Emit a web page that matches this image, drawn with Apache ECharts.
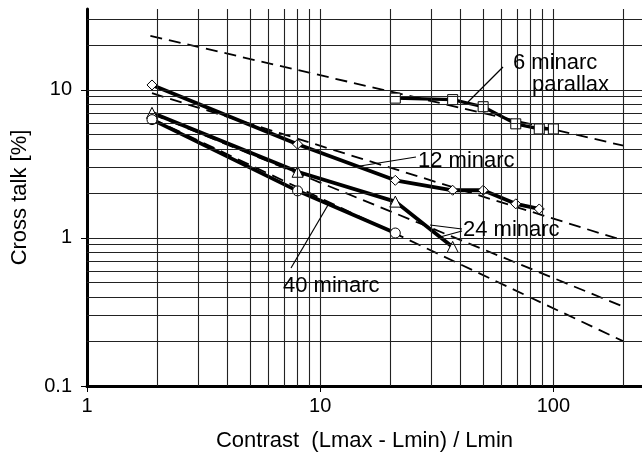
<!DOCTYPE html>
<html>
<head>
<meta charset="utf-8">
<script src="https://cdn.jsdelivr.net/npm/echarts@6/dist/echarts.min.js"></script>
<style>
html,body{margin:0;padding:0;background:#fff;}
#c{width:642px;height:454px;}
</style>
</head>
<body>
<div id="c"></div>
<script>
// ---- data ----
const xTickLabels = [1, 10, 100];
const yTickLabels = [0.1, 1, 10];
const xGridValues = [2,3,4,5,6,7,8,9,10,20,30,40,50,60,70,80,90,100,200];
const yGridValues = [0.2,0.3,0.4,0.5,0.6,0.7,0.8,0.9,1,2,3,4,5,6,7,8,9,10,20,30];

const x6 = [21, 37, 50, 69, 87, 100];
const y6 = [8.8, 8.6, 7.7, 5.9, 5.45, 5.45];
const x12 = [1.9, 8, 21, 37, 50, 69, 87];
const y12 = [10.8, 4.3, 2.45, 2.1, 2.1, 1.7, 1.57];
const x24 = [1.9, 8, 21, 37];
const y24 = [7.0, 2.8, 1.76, 0.87];
const x40 = [1.9, 8, 21];
const y40 = [6.3, 2.08, 1.08];

// dashed fit lines
const fit6x = [1.87, 200],  fit6y = [23.2, 4.2];
const fit12x = [1.9, 200],  fit12y = [9.5, 0.96];
const fit24x = [1.9, 200],  fit24y = [6.9, 0.343];
const fit40x = [1.9, 200],  fit40y = [6.4, 0.2];

const pairs = (xs, ys) => xs.map((x, i) => [x, ys[i]]);
const FONT = '"Liberation Sans", Arial, sans-serif';

const chart = echarts.init(document.getElementById('c'), null, {renderer: 'canvas'});

function solid(name, xs, ys, symbol, size, width) {
  return {
    name, type: 'line', data: pairs(xs, ys), z: 4,
    symbol, symbolSize: size, showAllSymbol: true,
    lineStyle: {color: '#000', width: width},
    itemStyle: {color: '#fff', borderColor: '#000', borderWidth: 1},
    emphasis: {disabled: true}
  };
}
function dashed(xs, ys) {
  return {
    type: 'line', data: pairs(xs, ys), z: 3, symbol: 'none',
    lineStyle: {color: '#000', width: 1.8, type: [12, 7]},
    emphasis: {disabled: true}
  };
}

chart.setOption({
  animation: false,
  backgroundColor: '#fff',
  grid: {left: 87, right: 0, top: 9, bottom: 68, containLabel: false, outerBoundsMode: 'none'},
  xAxis: {
    type: 'log', logBase: 10, min: 1, max: 240,
    name: 'Contrast  (Lmax - Lmin) / Lmin',
    nameLocation: 'middle', nameGap: 44,
    nameTextStyle: {fontFamily: FONT, fontSize: 22, color: '#000'},
    axisLine: {show: true, lineStyle: {color: '#000', width: 3}},
    axisTick: {show: true, customValues: xTickLabels, length: 6, lineStyle: {color: '#000', width: 1}},
    axisLabel: {customValues: xTickLabels, fontFamily: FONT, fontSize: 20, color: '#000', margin: 10},
    splitLine: {show: false}, minorSplitLine: {show: false}
  },
  yAxis: {
    type: 'log', logBase: 10, min: 0.1, max: 35.2,
    name: 'Cross talk [%]',
    nameLocation: 'middle', nameGap: 56, nameRotate: 90,
    nameTextStyle: {fontFamily: FONT, fontSize: 22, color: '#000'},
    axisLine: {show: true, lineStyle: {color: '#000', width: 3}},
    axisTick: {show: true, customValues: yTickLabels, length: 6, lineStyle: {color: '#000', width: 1}},
    axisLabel: {customValues: yTickLabels, fontFamily: FONT, fontSize: 20, color: '#000', margin: 15},
    splitLine: {show: false}, minorSplitLine: {show: false}
  },
  series: [
    {
      type: 'line', data: [[1, 0.1]], symbol: 'none', z: 1,
      lineStyle: {opacity: 0}, silent: true,
      markLine: {
        silent: true, symbol: ['none', 'none'], label: {show: false},
        lineStyle: {color: '#222', width: 1.1, type: 'solid'},
        emphasis: {disabled: true},
        data: xGridValues.map(v => ({xAxis: v})).concat(yGridValues.map(v => ({yAxis: v})))
      }
    },
    dashed(fit6x, fit6y),
    dashed(fit12x, fit12y),
    dashed(fit24x, fit24y),
    dashed(fit40x, fit40y),
    solid('6 minarc parallax', x6, y6, 'rect', 10, 3.2),
    solid('12 minarc', x12, y12, 'diamond', 10, 3.8),
    solid('24 minarc', x24, y24, 'triangle', 11, 3.8),
    solid('40 minarc', x40, y40, 'circle', 10, 3.8)
  ],
  graphic: [
    {type: 'line', z: 10, shape: {x1: 503, y1: 67, x2: 468, y2: 102}, style: {stroke: '#000', lineWidth: 1.2}},
    {type: 'line', z: 10, shape: {x1: 416, y1: 157, x2: 360, y2: 166}, style: {stroke: '#000', lineWidth: 1.2}},
    {type: 'line', z: 10, shape: {x1: 462, y1: 229, x2: 430, y2: 225}, style: {stroke: '#000', lineWidth: 1.2}},
    {type: 'line', z: 10, shape: {x1: 462, y1: 231, x2: 440, y2: 237}, style: {stroke: '#000', lineWidth: 1.2}},
    {type: 'line', z: 10, shape: {x1: 291, y1: 268, x2: 328, y2: 205}, style: {stroke: '#000', lineWidth: 1.2}},
    {type: 'text', z: 10, style: {text: '6 minarc', x: 513, y: 63, font: '22px ' + FONT, fill: '#000', align: 'left', verticalAlign: 'middle'}},
    {type: 'text', z: 10, style: {text: 'parallax', x: 532, y: 85, font: '22px ' + FONT, fill: '#000', align: 'left', verticalAlign: 'middle'}},
    {type: 'text', z: 10, style: {text: '12 minarc', x: 418, y: 161, font: '22px ' + FONT, fill: '#000', align: 'left', verticalAlign: 'middle'}},
    {type: 'text', z: 10, style: {text: '24 minarc', x: 463, y: 230, font: '22px ' + FONT, fill: '#000', align: 'left', verticalAlign: 'middle'}},
    {type: 'text', z: 10, style: {text: '40 minarc', x: 283, y: 286, font: '22px ' + FONT, fill: '#000', align: 'left', verticalAlign: 'middle'}}
  ]
});
</script>
</body>
</html>
